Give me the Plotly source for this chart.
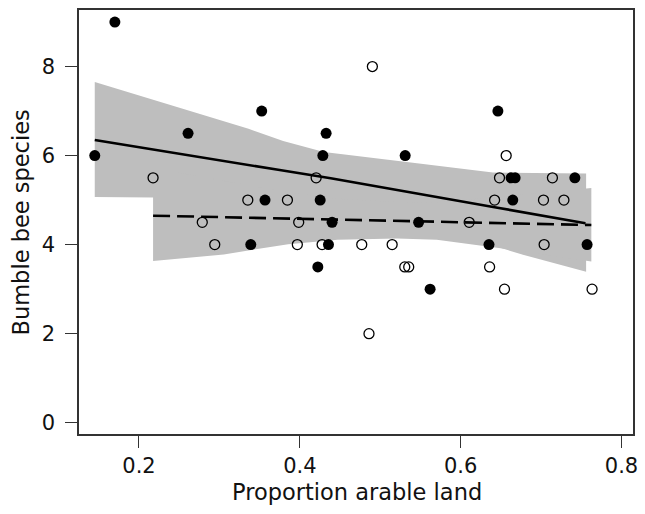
import plotly.graph_objects as go

# Sites with the first survey group (filled symbols)
arable_filled = [0.145, 0.170, 0.261, 0.339, 0.3526, 0.3567, 0.4224, 0.4253, 0.4286,
                 0.4327, 0.4356, 0.4401, 0.531, 0.5477, 0.562, 0.6352, 0.6463, 0.6627,
                 0.6677, 0.6648, 0.742, 0.7572]
species_filled = [6, 9, 6.5, 4, 7, 5, 3.5, 5, 6,
                  6.5, 4, 4.5, 6, 4.5, 3, 4, 7, 5.5,
                  5.5, 5, 5.5, 4]

# Sites with the second survey group (open symbols)
arable_open = [0.2175, 0.2787, 0.2942, 0.3353, 0.3846, 0.3986, 0.3969, 0.4203, 0.4277,
               0.4770, 0.486, 0.4902, 0.5148, 0.5305, 0.5354, 0.6106, 0.636, 0.6422,
               0.6483, 0.6545, 0.6566, 0.7030, 0.7038, 0.7141, 0.7284, 0.7634]
species_open = [5.5, 4.5, 4, 5, 5, 4.5, 4, 5.5, 4,
                4, 2, 8, 4, 3.5, 3.5, 4.5, 3.5, 5,
                5.5, 3, 6, 5, 4, 5.5, 5, 3]

# Fitted trend and confidence band, filled-symbol group
fit_filled_x = [0.145, 0.2745, 0.373, 0.4384, 0.5703, 0.6422, 0.7552]
fit_filled_y = [6.35, 5.96, 5.68, 5.49, 5.08, 4.84, 4.48]
band_filled_upper_x = [0.145, 0.2745, 0.3362, 0.3793, 0.43, 0.5457, 0.640, 0.756]
band_filled_upper = [7.65, 6.95, 6.60, 6.33, 6.08, 5.83, 5.62, 5.60]
band_filled_lower_x = [0.145, 0.2175, 0.2745, 0.3362, 0.43, 0.5457, 0.640, 0.6775, 0.756]
band_filled_lower = [5.07, 5.06, 5.00, 4.90, 4.75, 4.45, 3.98, 3.77, 3.39]

# Fitted trend and confidence band, open-symbol group
fit_open_x = [0.2175, 0.3855, 0.5826, 0.7625]
fit_open_y = [4.65, 4.59, 4.52, 4.44]
band_open_x = [0.2175, 0.3054, 0.3855, 0.4471, 0.5210, 0.5703, 0.6319, 0.6775, 0.7625]
band_open_lower = [3.63, 3.78, 4.01, 4.11, 4.14, 4.11, 3.96, 3.85, 3.62]
band_open_upper = [5.72, 5.44, 5.17, 5.03, 4.96, 4.95, 5.04, 5.12, 5.27]

x_ticks = [0.2, 0.4, 0.6, 0.8]
x_tick_labels = ["0.2", "0.4", "0.6", "0.8"]
y_ticks = [0, 2, 4, 6, 8]
y_tick_labels = ["0", "2", "4", "6", "8"]

BAND = "#bebebe"
FONT = "DejaVu Sans"

fig = go.Figure()

fig.add_trace(go.Scatter(
    x=band_filled_upper_x + band_filled_lower_x[::-1],
    y=band_filled_upper + band_filled_lower[::-1],
    fill="toself", fillcolor=BAND, line=dict(width=0), mode="lines",
    hoverinfo="skip", showlegend=False))
fig.add_trace(go.Scatter(
    x=band_open_x + band_open_x[::-1],
    y=band_open_upper + band_open_lower[::-1],
    fill="toself", fillcolor=BAND, line=dict(width=0), mode="lines",
    hoverinfo="skip", showlegend=False))

fig.add_trace(go.Scatter(
    x=fit_filled_x, y=fit_filled_y, mode="lines",
    line=dict(color="black", width=2.6), showlegend=False))
fig.add_trace(go.Scatter(
    x=fit_open_x, y=fit_open_y, mode="lines",
    line=dict(color="black", width=2.6, dash="17px,7px"), showlegend=False))

fig.add_trace(go.Scatter(
    x=arable_open, y=species_open, mode="markers",
    marker=dict(symbol="circle-open", size=10, color="black",
                line=dict(width=1.3, color="black")),
    showlegend=False))
fig.add_trace(go.Scatter(
    x=arable_filled, y=species_filled, mode="markers",
    marker=dict(symbol="circle", size=11, color="black",
                line=dict(width=0)),
    showlegend=False))

axis_common = dict(
    showline=True, mirror=True, linecolor="#333333", linewidth=1.5,
    ticks="outside", ticklen=12, tickwidth=1.3, tickcolor="#333333",
    showgrid=False, zeroline=False,
    tickfont=dict(family=FONT, size=21, color="#111111"),
)

fig.update_xaxes(range=[0.1254, 0.8143], tickvals=x_ticks, ticktext=x_tick_labels,
                 **axis_common)
fig.update_yaxes(range=[-0.254, 9.27], tickvals=y_ticks, ticktext=y_tick_labels,
                 ticklabelstandoff=6, **axis_common)

fig.add_annotation(text="Proportion arable land", xref="paper", yref="paper",
                   x=0.5027, y=-0.1368, showarrow=False, xanchor="center", yanchor="middle",
                   font=dict(family=FONT, size=22.5, color="#111111"))
fig.add_annotation(text="Bumble bee species", xref="paper", yref="paper",
                   x=-0.1038, y=0.5, showarrow=False, xanchor="center", yanchor="middle",
                   textangle=-90,
                   font=dict(family=FONT, size=22.5, color="#111111"))

fig.update_layout(
    width=645, height=514,
    margin=dict(l=79, r=7, t=10, b=80),
    plot_bgcolor="white", paper_bgcolor="white",
)

fig.write_html("out.html")
